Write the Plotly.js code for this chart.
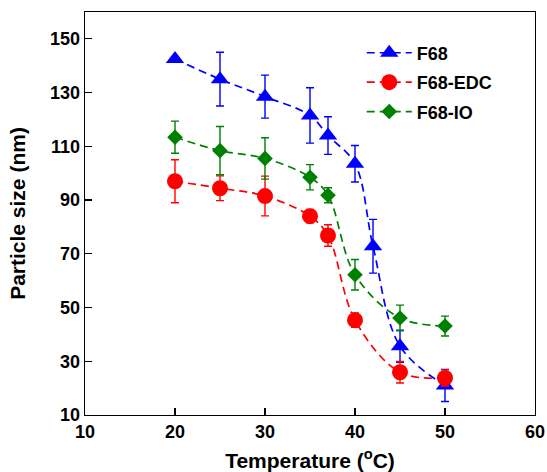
<!DOCTYPE html>
<html>
<head>
<meta charset="utf-8">
<script src="https://cdn.plot.ly/plotly-3.0.1.min.js"></script>
<style>html,body{margin:0;padding:0;background:#fff;}#chart{width:547px;height:472px;}</style>
</head>
<body>
<div id="chart"></div>
<script>
const temperature = [20, 25, 30, 35, 37, 40, 42, 45, 50];
const f68 = [142.5, 135, 128.5, 121.5, 114, 103.5, 72.8, 35.6, 21];
const f68Err = [0, 10, 8, 10.3, 7, 6.8, 10, 6, 6];

const temperatureEdc = [20, 25, 30, 35, 37, 40, 45, 50];
const f68Edc = [97, 94.4, 91.5, 84, 76.8, 45.3, 25.9, 23.8];
const f68EdcErr = [8, 4.6, 7.4, 2.5, 4, 2.7, 4, 3];

const temperatureIo = [20, 25, 30, 35, 37, 40, 45, 50];
const f68Io = [113.4, 108.4, 105.5, 98.5, 91.8, 62.2, 46.1, 43.1];
const f68IoErr = [6, 9, 7.7, 4.7, 2.8, 5.7, 4.8, 3.7];

function series(x, y, err, name, color, symbol, size, group) {
  return {
    x: x, y: y, name: name, type: 'scatter', mode: 'lines+markers',
    legendgroup: group,
    line: {color: color, width: 1.7, dash: '8px,5px', shape: 'spline', smoothing: 1},
    marker: {color: color, symbol: symbol, size: size},
    error_y: {type: 'data', array: err, visible: true, color: color, thickness: 1.4, width: 4}
  };
}

const data = [
  series(temperature, f68, f68Err, 'F68', '#0000ff', 'triangle-up', 16, 'a'),
  series(temperatureEdc, f68Edc, f68EdcErr, 'F68-EDC', '#ff0000', 'circle', 16, 'b'),
  series(temperatureIo, f68Io, f68IoErr, 'F68-IO', '#008000', 'diamond', 12, 'c')
];

const fontFam = 'Arial, "Liberation Sans", sans-serif';
const layout = {
  width: 547, height: 472,
  margin: {l: 85, r: 12, t: 12, b: 57},
  paper_bgcolor: '#fff', plot_bgcolor: '#fff',
  font: {family: fontFam, color: '#000', size: 18, weight: 'bold'},
  showlegend: true,
  legend: {x: 0.615, y: 0.944, xanchor: 'left', yanchor: 'top', bgcolor: 'rgba(0,0,0,0)',
           font: {family: fontFam, size: 18, weight: 'bold'}, tracegroupgap: 3, itemwidth: 45},
  xaxis: {
    range: [10, 60], dtick: 10, tick0: 10, ticks: 'inside', ticklen: 7, tickwidth: 1.2, tickcolor: '#000',
    showline: true, mirror: true, linecolor: '#000', linewidth: 1.3,
    showgrid: false, zeroline: false,
    tickfont: {family: fontFam, size: 18, weight: 'bold'},
    title: {text: 'Temperature (<sup>o</sup>C)', font: {family: fontFam, size: 21, weight: 'bold'}, standoff: 12}
  },
  yaxis: {
    range: [10, 160], tickvals: [10, 30, 50, 70, 90, 110, 130, 150], ticks: 'inside', ticklen: 7, tickwidth: 1.2, tickcolor: '#000',
    showline: true, mirror: true, linecolor: '#000', linewidth: 1.3,
    showgrid: false, zeroline: false,
    tickfont: {family: fontFam, size: 18, weight: 'bold'},
    title: {text: 'Particle size (nm)', font: {family: fontFam, size: 21, weight: 'bold'}, standoff: 18}
  }
};

Plotly.newPlot('chart', data, layout, {staticPlot: true, displayModeBar: false});
</script>
</body>
</html>
